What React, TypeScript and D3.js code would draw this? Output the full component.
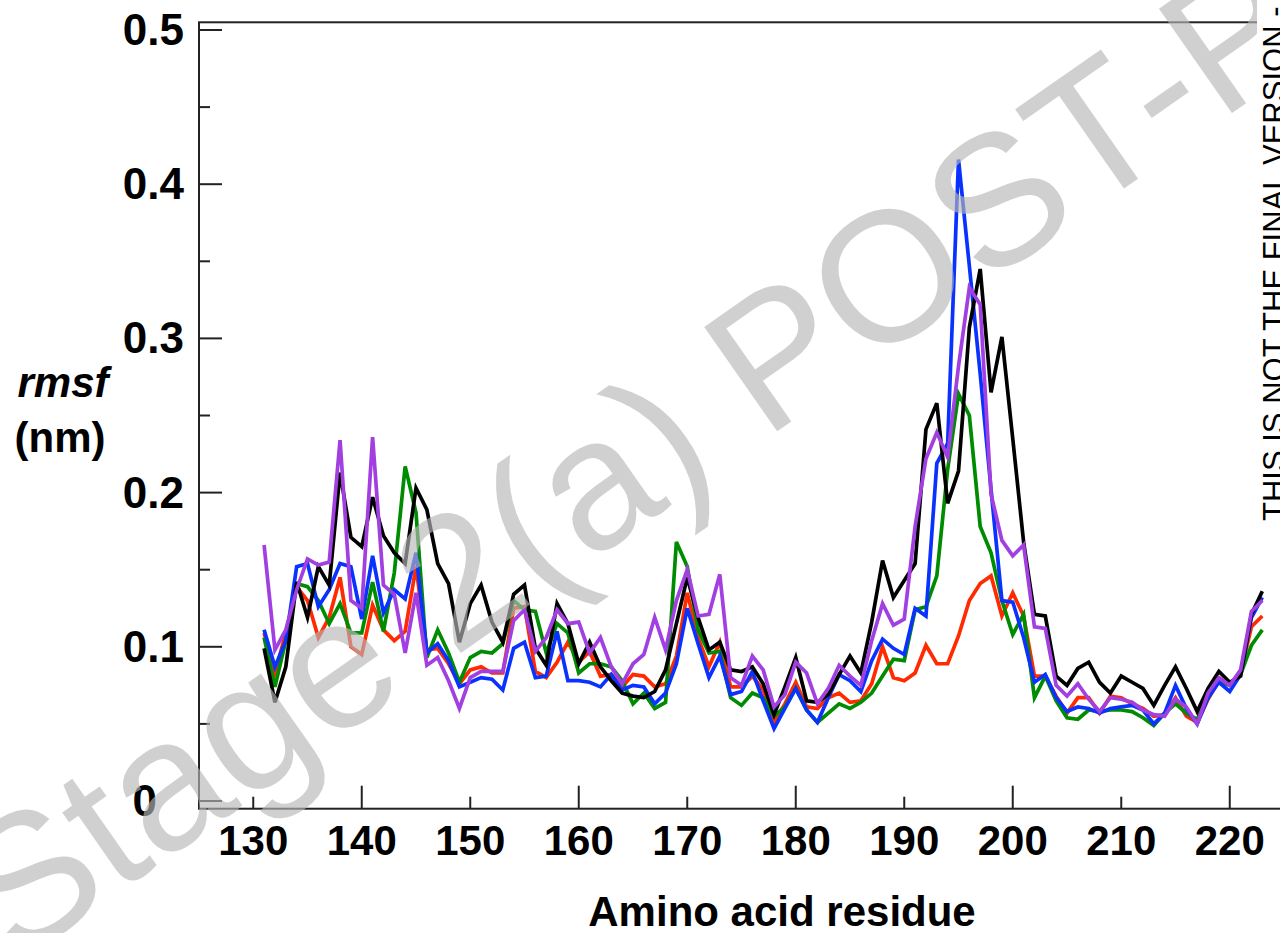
import React from 'react';
import * as d3 from 'd3';

// residue numbers on the x axis (131..223)
const residues = d3.range(131, 224);

const rmsfBlack = [
  0.099, 0.064, 0.087, 0.142, 0.119, 0.152, 0.140, 0.213, 0.171, 0.165,
  0.197, 0.172, 0.161, 0.154, 0.203, 0.189, 0.154, 0.141, 0.103, 0.128,
  0.140, 0.116, 0.103, 0.134, 0.140, 0.099, 0.088, 0.128, 0.115, 0.089,
  0.103, 0.087, 0.078, 0.070, 0.068, 0.067, 0.071, 0.085, 0.115, 0.145,
  0.119, 0.098, 0.103, 0.085, 0.084, 0.087, 0.076, 0.056, 0.074, 0.093,
  0.065, 0.064, 0.069, 0.082, 0.094, 0.083, 0.116, 0.156, 0.132, 0.143,
  0.154, 0.241, 0.258, 0.193, 0.214, 0.307, 0.345, 0.265, 0.301, 0.235,
  0.168, 0.121, 0.120, 0.081, 0.075, 0.086, 0.090, 0.077, 0.070, 0.081,
  0.077, 0.073, 0.062, 0.075, 0.087, 0.073, 0.058, 0.073, 0.084, 0.077,
  0.081, 0.121, 0.136,
];

const rmsfRed = [
  0.109, 0.083, 0.109, 0.139, 0.130, 0.106, 0.119, 0.145, 0.100, 0.095,
  0.127, 0.111, 0.104, 0.110, 0.152, 0.098, 0.099, 0.089, 0.076, 0.085,
  0.087, 0.083, 0.083, 0.125, 0.126, 0.084, 0.080, 0.090, 0.103, 0.090,
  0.097, 0.081, 0.082, 0.074, 0.082, 0.081, 0.074, 0.076, 0.094, 0.135,
  0.106, 0.087, 0.103, 0.074, 0.074, 0.081, 0.072, 0.051, 0.063, 0.077,
  0.061, 0.060, 0.067, 0.070, 0.064, 0.065, 0.076, 0.100, 0.080, 0.078,
  0.083, 0.101, 0.089, 0.089, 0.107, 0.130, 0.141, 0.146, 0.120, 0.135,
  0.120, 0.081, 0.081, 0.068, 0.057, 0.067, 0.067, 0.057, 0.068, 0.067,
  0.063, 0.060, 0.055, 0.056, 0.067, 0.055, 0.051, 0.066, 0.078, 0.075,
  0.083, 0.113, 0.120,
];

const rmsfGreen = [
  0.106, 0.074, 0.104, 0.141, 0.139, 0.130, 0.115, 0.128, 0.109, 0.109,
  0.142, 0.110, 0.148, 0.217, 0.187, 0.093, 0.111, 0.096, 0.077, 0.093,
  0.097, 0.096, 0.102, 0.130, 0.124, 0.123, 0.096, 0.115, 0.109, 0.083,
  0.089, 0.089, 0.087, 0.078, 0.063, 0.070, 0.060, 0.064, 0.168, 0.152,
  0.111, 0.096, 0.097, 0.067, 0.062, 0.070, 0.067, 0.055, 0.061, 0.073,
  0.059, 0.051, 0.057, 0.063, 0.060, 0.064, 0.070, 0.081, 0.092, 0.091,
  0.124, 0.126, 0.146, 0.215, 0.264, 0.250, 0.178, 0.161, 0.130, 0.108,
  0.121, 0.067, 0.081, 0.065, 0.054, 0.053, 0.059, 0.058, 0.059, 0.059,
  0.058, 0.054, 0.049, 0.057, 0.063, 0.057, 0.053, 0.067, 0.078, 0.075,
  0.082, 0.101, 0.111,
];

const rmsfBlue = [
  0.111, 0.087, 0.104, 0.152, 0.154, 0.126, 0.137, 0.154, 0.152, 0.118,
  0.159, 0.122, 0.137, 0.131, 0.161, 0.096, 0.102, 0.091, 0.074, 0.077,
  0.080, 0.079, 0.072, 0.099, 0.103, 0.080, 0.081, 0.110, 0.078, 0.078,
  0.077, 0.074, 0.082, 0.072, 0.075, 0.074, 0.063, 0.070, 0.089, 0.125,
  0.102, 0.080, 0.094, 0.069, 0.071, 0.084, 0.065, 0.047, 0.060, 0.073,
  0.059, 0.051, 0.067, 0.082, 0.078, 0.071, 0.091, 0.105, 0.099, 0.095,
  0.125, 0.120, 0.219, 0.232, 0.416, 0.347, 0.277, 0.202, 0.130, 0.129,
  0.106, 0.077, 0.082, 0.067, 0.058, 0.061, 0.060, 0.057, 0.060, 0.061,
  0.062, 0.059, 0.050, 0.057, 0.075, 0.060, 0.050, 0.067, 0.077, 0.071,
  0.082, 0.119, 0.132,
];

const rmsfPurple = [
  0.166, 0.098, 0.111, 0.137, 0.157, 0.153, 0.155, 0.234, 0.130, 0.125,
  0.236, 0.140, 0.134, 0.096, 0.135, 0.088, 0.093, 0.078, 0.060, 0.080,
  0.084, 0.084, 0.084, 0.117, 0.124, 0.097, 0.106, 0.124, 0.115, 0.116,
  0.096, 0.106, 0.087, 0.076, 0.089, 0.095, 0.119, 0.098, 0.130, 0.150,
  0.120, 0.121, 0.147, 0.080, 0.075, 0.094, 0.085, 0.061, 0.069, 0.090,
  0.083, 0.063, 0.073, 0.088, 0.081, 0.075, 0.104, 0.128, 0.114, 0.118,
  0.178, 0.222, 0.239, 0.223, 0.282, 0.333, 0.322, 0.199, 0.169, 0.159,
  0.166, 0.113, 0.112, 0.075, 0.068, 0.076, 0.066, 0.058, 0.067, 0.066,
  0.064, 0.059, 0.056, 0.055, 0.066, 0.061, 0.050, 0.070, 0.080, 0.075,
  0.085, 0.123, 0.130,
];

const yTickValues = [0, 0.1, 0.2, 0.3, 0.4, 0.5];
const yTickLabels = ['0', '0.1', '0.2', '0.3', '0.4', '0.5'];
const yMinorTicks = [0.05, 0.15, 0.25, 0.35, 0.45];
const xTickValues = [130, 140, 150, 160, 170, 180, 190, 200, 210, 220];
const xTickLabels = ['130', '140', '150', '160', '170', '180', '190', '200', '210', '220'];

const FONT = '"Liberation Sans", Arial, Helvetica, sans-serif';

const series = [
  { name: 'red', values: rmsfRed, color: '#ff2a00' },
  { name: 'green', values: rmsfGreen, color: '#008c00' },
  { name: 'blue', values: rmsfBlue, color: '#0a32ff' },
  { name: 'black', values: rmsfBlack, color: '#000000' },
  { name: 'purple', values: rmsfPurple, color: '#a23fe0' },
];

export default function App() {
  const width = 1280;
  const height = 933;

  const x = d3.scaleLinear().domain([125, 225]).range([199, 1284]);
  const y = d3.scaleLinear().domain([0, 0.5]).range([801, 30]);

  const frameTop = y(0.505);
  const frameBottom = y(-0.005);
  const frameLeft = x(125);
  const frameRight = x(225);

  const line = d3
    .line<number>()
    .x((_, i) => x(residues[i]))
    .y((d) => y(d));

  return (
    <svg
      width={width}
      height={height}
      style={{ position: 'absolute', left: 0, top: 0, display: 'block', background: '#fff' }}
    >
      <rect x={0} y={0} width={width} height={height} fill="#fff" />

      {/* data */}
      <g fill="none" strokeWidth={3.7} strokeLinejoin="miter" strokeLinecap="butt">
        {series.map((s) => (
          <path key={s.name} d={line(s.values) || ''} stroke={s.color} />
        ))}
      </g>

      {/* frame and ticks */}
      <g stroke="#222" strokeWidth={2}>
        <rect
          x={frameLeft}
          y={frameTop}
          width={frameRight - frameLeft}
          height={frameBottom - frameTop}
          fill="none"
        />
        {yTickValues.map((v) => (
          <line key={'ym' + v} x1={frameLeft} x2={frameLeft + 23} y1={y(v)} y2={y(v)} />
        ))}
        {yMinorTicks.map((v) => (
          <line key={'yn' + v} x1={frameLeft} x2={frameLeft + 11} y1={y(v)} y2={y(v)} />
        ))}
        {xTickValues.map((v, i) => (
          <line
            key={'x' + v}
            x1={x(v)}
            x2={x(v)}
            y1={frameBottom}
            y2={frameBottom - (i % 2 === 1 ? 23 : 12)}
          />
        ))}
      </g>

      {/* tick labels */}
      <g fontFamily={FONT} fontWeight="bold" fontSize={42} fill="#000">
        {yTickValues.map((v, i) => (
          <text
            key={'yl' + v}
            x={v === 0 ? frameLeft - 42 : frameLeft - 15}
            y={y(v) + 15}
            textAnchor="end"
            fontSize={44}
          >
            {yTickLabels[i]}
          </text>
        ))}
        {xTickValues.map((v, i) => (
          <text key={'xl' + v} x={x(v)} y={855} textAnchor="middle">
            {xTickLabels[i]}
          </text>
        ))}
        <text x={782} y={926} textAnchor="middle">
          Amino acid residue
        </text>
        <text x={63} y={397} textAnchor="middle" fontStyle="italic">
          rmsf
        </text>
        <text x={60} y={452} textAnchor="middle">
          (nm)
        </text>
      </g>

      {/* watermark */}
      <text
        x={15}
        y={965}
        transform="rotate(-35 15 965)"
        fontFamily={FONT}
        fontSize={185}
        fill="#b7b7b7"
        fillOpacity={0.65}
      >
        Stage 2(a) POST-PRINT
      </text>

      <rect x={1257} y={0} width={30} height={528} fill="#fff" />
      <text
        x={1285}
        y={521}
        transform="rotate(-90 1285 521)"
        fontFamily={FONT}
        fontSize={31}
        fill="#000"
      >
        THIS IS NOT THE FINAL VERSION - see doi
      </text>
    </svg>
  );
}
